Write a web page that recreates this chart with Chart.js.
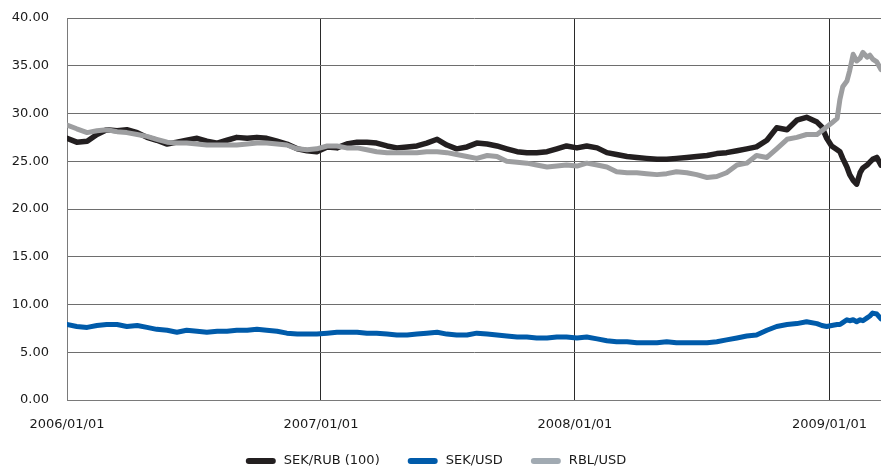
<!DOCTYPE html>
<html>
<head>
<meta charset="utf-8">
<script src="https://cdn.jsdelivr.net/npm/chart.js@4/dist/chart.umd.min.js"></script>
<style>
html,body{margin:0;padding:0;background:#fff;}
#wrap{width:881px;height:468px;position:relative;}
</style>
</head>
<body>
<div id="wrap"><canvas id="c"></canvas></div>
<script>
// Days since 2006-01-01
const dayOffsets = [0,14,29,43,57,72,86,101,115,129,144,158,172,187,201,216,230,244,259,273,287,302,316,331,345,359,374,388,402,417,431,445,460,474,489,503,517,532,546,560,575,589,604,618,632,647,661,675,690,704,718,733,747,762,776,790,805,819,833,848,862,876,891,905,920,934,948,963,977,991,1006,1020,1035,1049,1063,1078,
1085,1092,1099,1107,1111,1115,1121,1125,1130,1135,1140,1144,1150,1154,1158,1164,1170];

const sekRub = [27.4,27.0,27.1,27.8,28.3,28.2,28.3,28.0,27.5,27.2,26.8,27.0,27.2,27.4,27.1,26.9,27.2,27.5,27.4,27.5,27.4,27.1,26.8,26.3,26.1,26.0,26.5,26.4,26.8,27.0,27.0,26.9,26.6,26.4,26.5,26.6,26.9,27.3,26.7,26.3,26.5,26.9,26.8,26.6,26.3,26.0,25.9,25.9,26.0,26.3,26.6,26.4,26.6,26.4,25.9,25.7,25.5,25.4,25.3,25.2,25.2,25.3,25.4,25.5,25.6,25.8,25.9,26.1,26.3,26.5,27.2,28.5,28.3,29.3,29.6,29.1,
28.6,27.4,26.6,26.2,26.0,25.3,24.4,23.6,23.0,22.6,23.8,24.3,24.6,24.9,25.2,25.4,24.6];

const sekUsd = [7.9,7.7,7.6,7.8,7.9,7.9,7.7,7.8,7.6,7.4,7.3,7.1,7.3,7.2,7.1,7.2,7.2,7.3,7.3,7.4,7.3,7.2,7.0,6.9,6.9,6.9,7.0,7.1,7.1,7.1,7.0,7.0,6.9,6.8,6.8,6.9,7.0,7.1,6.9,6.8,6.8,7.0,6.9,6.8,6.7,6.6,6.6,6.5,6.5,6.6,6.6,6.5,6.6,6.4,6.2,6.1,6.1,6.0,6.0,6.0,6.1,6.0,6.0,6.0,6.0,6.1,6.3,6.5,6.7,6.8,7.3,7.7,7.9,8.0,8.2,8.0,
7.8,7.7,7.8,7.9,7.9,8.1,8.4,8.3,8.4,8.2,8.4,8.3,8.6,8.8,9.1,9.0,8.5];

const rblUsd = [28.8,28.4,28.0,28.2,28.3,28.1,28.0,27.8,27.6,27.3,27.0,26.9,26.9,26.8,26.7,26.7,26.7,26.7,26.8,26.9,26.9,26.8,26.7,26.3,26.2,26.3,26.6,26.6,26.4,26.4,26.2,26.0,25.9,25.9,25.9,25.9,26.0,26.0,25.9,25.7,25.5,25.3,25.6,25.5,25.0,24.9,24.8,24.6,24.4,24.5,24.6,24.5,24.8,24.6,24.4,23.9,23.8,23.8,23.7,23.6,23.7,23.9,23.8,23.6,23.3,23.4,23.8,24.6,24.8,25.6,25.4,26.3,27.3,27.5,27.8,27.8,
28.2,28.6,29.0,29.5,31.5,32.8,33.4,34.5,36.2,35.5,35.8,36.4,35.9,36.1,35.7,35.4,34.6];

const seriesNames = ['SEK/RUB (100)','SEK/USD','RBL/USD'];
const tickDays = [0,365,730,1096];
const tickLabels = ['2006/01/01','2007/01/01','2008/01/01','2009/01/01'];
const yTicks = [0,5,10,15,20,25,30,35,40];

const colors = ['#231f20','#005baa','#9d9ea0'];
const legendColors = ['#231f20','#005baa','#a1aab2'];

function pts(vals){ return vals.map((v,i)=>({x:dayOffsets[i], y:v})); }

const FONT = '"DejaVu Sans", sans-serif';

const legendPlugin = {
  id:'customLegend',
  afterDraw(chart){
    const ctx = chart.ctx;
    ctx.save();
    ctx.font = '13px ' + FONT;
    const sw = 30, gapText = 8, gapItem = 28;
    const items = chart.data.datasets.map((d,i)=>({label:d.label, color:legendColors[i], w:ctx.measureText(d.label).width}));
    let total = 0;
    items.forEach((it,i)=>{ total += sw + gapText + it.w + (i<items.length-1?gapItem:0); });
    let x = 436 - total/2;
    const y = 461;
    items.forEach(it=>{
      ctx.strokeStyle = it.color;
      ctx.lineWidth = 6;
      ctx.lineCap = 'round';
      ctx.beginPath();
      ctx.moveTo(x+3, y); ctx.lineTo(x+sw-3, y); ctx.stroke();
      x += sw + gapText;
      ctx.fillStyle = '#1a1a1a';
      ctx.textAlign = 'left';
      ctx.textBaseline = 'middle';
      ctx.fillText(it.label, x, y);
      x += it.w + gapItem;
    });
    ctx.restore();
  }
};

new Chart(document.getElementById('c'), {
  type:'line',
  data:{
    datasets:[
      {label:seriesNames[0], data:pts(sekRub), borderColor:colors[0], backgroundColor:colors[0], order:2, borderWidth:5.5},
      {label:seriesNames[1], data:pts(sekUsd), borderColor:colors[1], backgroundColor:colors[1], order:1},
      {label:seriesNames[2], data:pts(rblUsd), borderColor:colors[2], backgroundColor:colors[2], order:0}
    ]
  },
  options:{
    responsive:true,
    maintainAspectRatio:false,
    animation:false,
    layout:{padding:{top:18,left:0,right:0,bottom:0}},
    elements:{
      line:{borderWidth:5, tension:0, borderJoinStyle:'round', borderCapStyle:'round'},
      point:{radius:0, hoverRadius:0}
    },
    plugins:{legend:{display:false}, tooltip:{enabled:false}},
    scales:{
      x:{
        type:'linear', min:0, max:1170,
        afterBuildTicks(s){ s.ticks = tickDays.map(v=>({value:v})); },
        afterFit(s){ s.height = 68; s.paddingLeft = 0; s.paddingRight = 0; },
        ticks:{
          padding:17, maxRotation:0, autoSkip:false,
          color:'#1a1a1a', font:{family:FONT, size:13},
          callback(v){ const i = tickDays.indexOf(v); return i>=0 ? tickLabels[i] : ''; }
        },
        grid:{color:(c)=> (c.tick && c.tick.value===0) ? 'rgba(0,0,0,0)' : '#2a2a2a', lineWidth:1, drawTicks:false},
        border:{color:'#7a7a7a', width:1}
      },
      y:{
        min:0, max:40,
        afterBuildTicks(s){ s.ticks = yTicks.map(v=>({value:v})); },
        afterFit(s){ s.width = 67; s.paddingTop = 0; s.paddingBottom = 0; },
        ticks:{
          padding:18, color:'#1a1a1a', font:{family:FONT, size:13},
          callback(v){ return Number(v).toFixed(2); }
        },
        grid:{color:'#6e6e6e', lineWidth:1, drawTicks:false},
        border:{color:'#7a7a7a', width:1}
      }
    }
  },
  plugins:[legendPlugin]
});
</script>
</body>
</html>
